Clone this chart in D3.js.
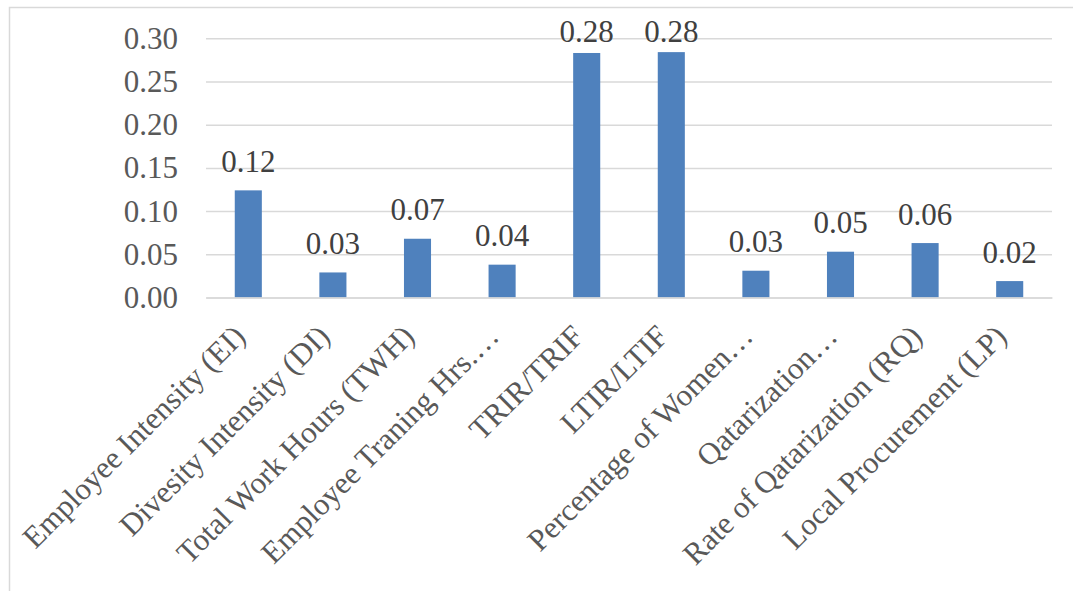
<!DOCTYPE html>
<html>
<head>
<meta charset="utf-8">
<script src="https://cdn.jsdelivr.net/npm/d3@7"></script>
<style>
  html, body { margin: 0; padding: 0; background: #fff; }
  svg { display: block; }
  text { font-family: "Liberation Serif", "Times New Roman", serif; }
</style>
</head>
<body>
<svg id="chart" width="1073" height="591"></svg>
<script>
// Indicator names along the x axis
const categories = [
  "Employee Intensity (EI)",
  "Divesity Intensity (DI)",
  "Total Work Hours (TWH)",
  "Employee Traning Hrs.\u2026",
  "TRIR/TRIF",
  "LTIR/LTIF",
  "Percentage of Women\u2026",
  "Qatarization\u2026",
  "Rate of Qatarization (RQ)",
  "Local Procurement (LP)"
];

// Value for each indicator
const values = [0.124, 0.029, 0.068, 0.038, 0.283, 0.284, 0.031, 0.053, 0.063, 0.019];

// Y axis tick values
const yTicks = [0.00, 0.05, 0.10, 0.15, 0.20, 0.25, 0.30];

const data = categories.map((c, i) => ({ name: c, value: values[i] }));

const svg = d3.select("#chart");
const fontSize = 31;
const fmt = d3.format(".2f");

const plot = { left: 206, right: 1052, top: 38.3, bottom: 297.5 };

const x = d3.scaleBand()
  .domain(categories)
  .range([plot.left, plot.right])
  .paddingInner(0.68)
  .paddingOuter(0.34);

const y = d3.scaleLinear()
  .domain([0, 0.30])
  .range([plot.bottom, plot.top]);

// Outer frame of the chart area
svg.append("path")
  .attr("d", "M9.5,600 V7.5 H1080")
  .attr("fill", "none")
  .attr("stroke", "#d9d9d9")
  .attr("stroke-width", 1.5);

// Horizontal gridlines
const grid = svg.append("g")
  .attr("transform", `translate(${plot.left},0)`)
  .call(d3.axisLeft(y).tickValues(yTicks).tickSize(-(plot.right - plot.left)).tickFormat(""));
grid.select(".domain").remove();
grid.selectAll("line").attr("stroke", "#d9d9d9").attr("stroke-width", 1.5);

// Y axis labels
const yAxis = svg.append("g")
  .attr("transform", `translate(${plot.left},0)`)
  .call(d3.axisLeft(y).tickValues(yTicks).tickFormat(fmt).tickSize(0).tickPadding(28));
yAxis.select(".domain").remove();
yAxis.selectAll("text")
  .attr("font-size", fontSize)
  .attr("fill", "#595959")
  .style("font-family", "'Liberation Serif', 'Times New Roman', serif");

// Bars
svg.append("g")
  .selectAll("rect")
  .data(data)
  .join("rect")
  .attr("x", d => x(d.name))
  .attr("y", d => y(d.value))
  .attr("width", x.bandwidth())
  .attr("height", d => y(0) - y(d.value))
  .attr("fill", "#4f81bd");

// Value labels above bars, kept inside the chart area
svg.append("g")
  .selectAll("text")
  .data(data)
  .join("text")
  .attr("x", d => x(d.name) + x.bandwidth() / 2)
  .attr("y", d => Math.max(y(d.value) - 18.5, 41.5))
  .attr("text-anchor", "middle")
  .attr("font-size", fontSize)
  .attr("fill", "#404040")
  .text(d => fmt(d.value));

// Category axis at zero with rotated labels
const xAxis = svg.append("g")
  .attr("transform", `translate(0,${plot.bottom})`)
  .call(d3.axisBottom(x).tickSize(0).tickPadding(0));
xAxis.select(".domain")
  .attr("stroke", "#d9d9d9")
  .attr("stroke-width", 1.5);
xAxis.selectAll(".tick text")
  .attr("font-size", fontSize)
  .attr("fill", "#595959")
  .style("font-family", "'Liberation Serif', 'Times New Roman', serif")
  .attr("text-anchor", "end")
  .attr("x", 0)
  .attr("y", 0)
  .attr("dy", "0.35em")
  .attr("transform", "translate(-9,33) rotate(-45)");
</script>
</body>
</html>
